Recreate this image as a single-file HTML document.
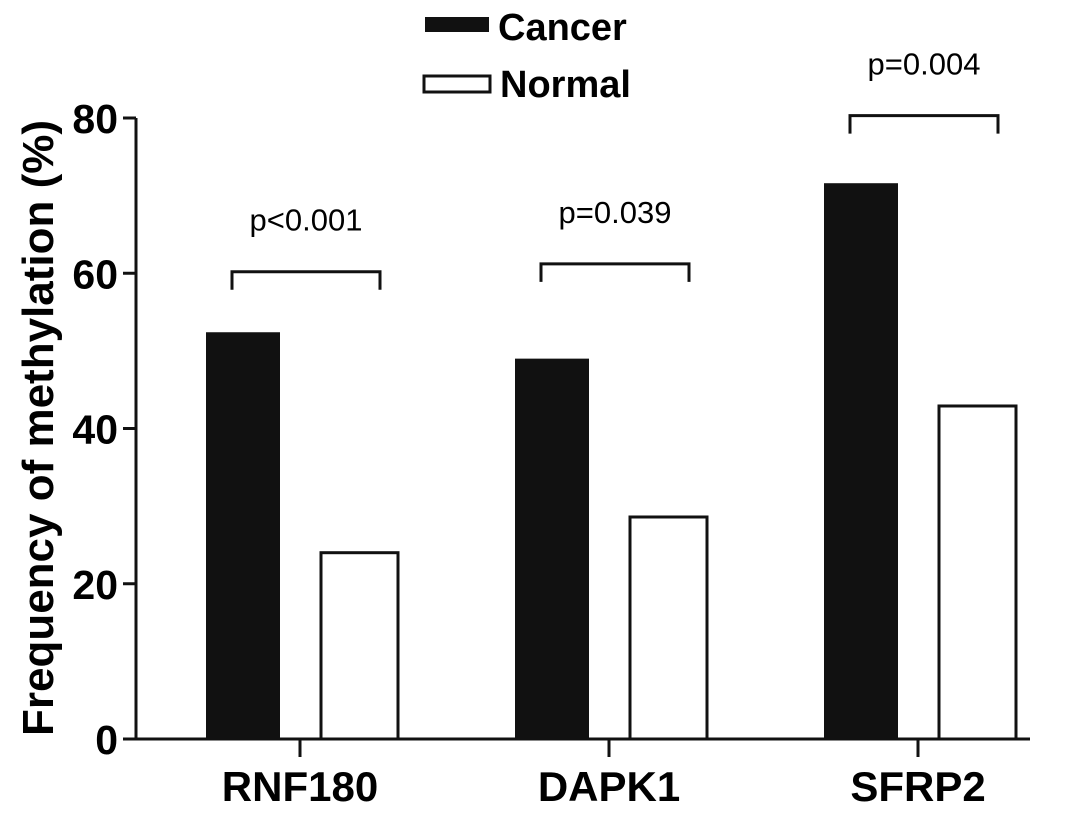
<!DOCTYPE html>
<html><head><meta charset="utf-8"><style>
body{margin:0;background:#fff}
svg{display:block;font-family:"Liberation Sans",Arial,sans-serif}
</style></head><body>
<svg id="chart" width="1087" height="813">
<g id="legend">
<rect x="425" y="17" width="64" height="15" fill="#111"/>
<text x="498" y="40" font-size="38" font-weight="bold">Cancer</text>
<rect x="424" y="76" width="66" height="16" fill="#fff" stroke="#111" stroke-width="3"/>
<text x="500" y="97" font-size="38" font-weight="bold">Normal</text>
</g>
<text transform="translate(53,428) rotate(-90)" text-anchor="middle" font-size="44" font-weight="bold">Frequency of methylation (%)</text>
<g id="plot"></g>
</svg>
<script>
const categories=["RNF180","DAPK1","SFRP2"];
const cancerValues=[52.4,49.0,71.6];
const normalValues=[24.0,28.6,42.9];
const pLabels=["p<0.001","p=0.039","p=0.004"];
const bracketLevels=[60.2,61.2,80.3];
const yTicks=[0,20,40,60,80];
const NS="http://www.w3.org/2000/svg";
const g=document.getElementById('plot');
const y0=739,yTop=118,yMax=80;
function y(v){return y0-(v/yMax)*(y0-yTop);}
function xc(i){return 300+i*309;}
function mk(t,a){const e=document.createElementNS(NS,t);for(const k in a)e.setAttribute(k,a[k]);g.appendChild(e);return e;}
let ax=mk('line',{x1:136,y1:yTop,x2:136,y2:y0+1,stroke:'#111','stroke-width':3});


let bx=mk('line',{x1:128,y1:y0,x2:1030,y2:y0,stroke:'#111','stroke-width':3});


yTicks.forEach(v=>{
 let t=mk('line',{x1:123,y1:y(v),x2:136,y2:y(v),stroke:'#111','stroke-width':3});
 
 
 let l=mk('text',{x:118,y:y(v)+15,'text-anchor':'end','font-size':41,'font-weight':'bold'});
 l.textContent=v;
 
 
});
categories.forEach((c,i)=>{
 const x=xc(i);
 let b1=mk('rect',{x:x-94,y:y(cancerValues[i]),width:74,height:y0-y(cancerValues[i]),fill:'#111'});
 
 
 let b2=mk('rect',{x:x+21,y:y(normalValues[i]),width:77,height:y0-y(normalValues[i]),fill:'#fff',stroke:'#111','stroke-width':3});
 
 
 let t=mk('line',{x1:x,y1:y0,x2:x,y2:757,stroke:'#111','stroke-width':3});
 
 
 let l=mk('text',{x:x,y:801,'text-anchor':'middle','font-size':42,'font-weight':'bold'});
 l.textContent=c;
 
 
 const by=y(bracketLevels[i]);
 let br=mk('path',{d:`M${x-68} ${by+18}V${by}H${x+80}V${by+18}`,fill:'none',stroke:'#111','stroke-width':3});
 
 
 let p=mk('text',{x:x+6,y:by-41,'text-anchor':'middle','font-size':31});
 p.textContent=pLabels[i];
 
 
});
</script>
</body></html>
